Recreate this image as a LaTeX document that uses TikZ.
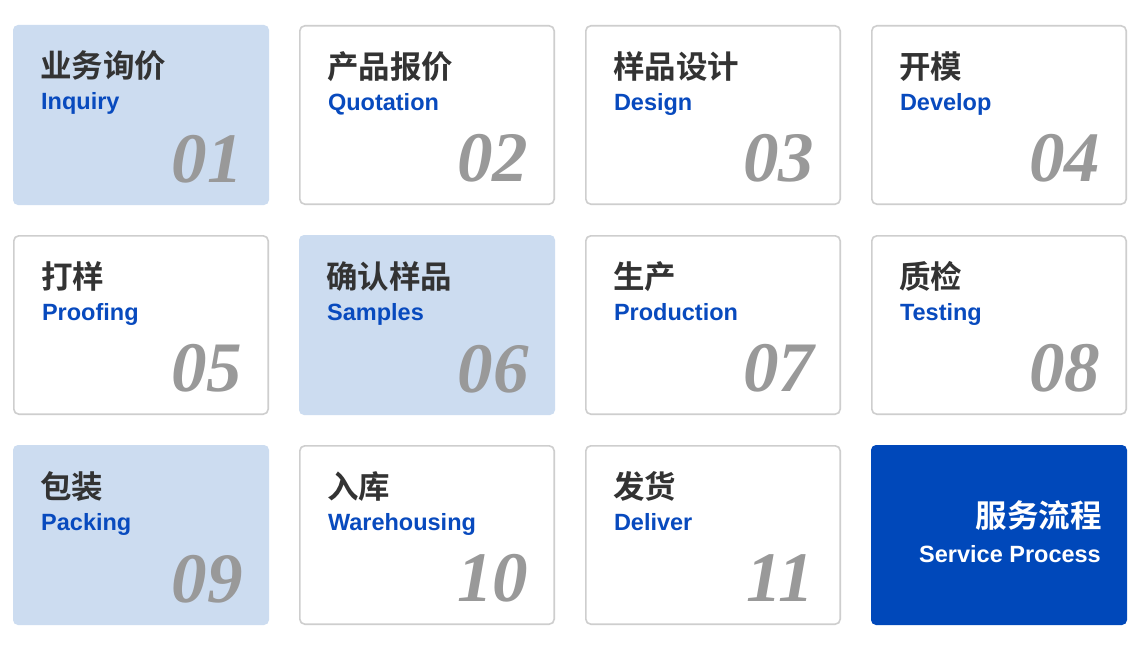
\documentclass[tikz,border=0pt]{standalone}
\usepackage{fontspec}
\setmainfont{Liberation Sans}
\newfontfamily\cjk{Noto Sans CJK SC}[BoldFont=* Bold]
\newfontfamily\numfont{Liberation Serif}
\definecolor{lightcard}{RGB}{204,220,240}
\definecolor{bluecard}{RGB}{0,72,186}
\definecolor{bluetext}{RGB}{8,74,190}
\definecolor{darktext}{RGB}{51,51,51}
\definecolor{numgray}{RGB}{153,153,153}
\definecolor{bordergray}{RGB}{206,206,206}
\tikzset{
  whitecard/.style={draw=bordergray, line width=1.6pt, fill=white, rounded corners=5pt,
    minimum width=254.4pt, minimum height=178.4pt, inner sep=0pt, outer sep=0pt},
  softcard/.style={fill=lightcard, rounded corners=5pt,
    minimum width=256pt, minimum height=180pt, inner sep=0pt, outer sep=0pt},
  darkcard/.style={fill=bluecard, rounded corners=5pt,
    minimum width=256pt, minimum height=180pt, inner sep=0pt, outer sep=0pt},
  zhtitle/.style={anchor=base west, inner sep=0pt, text=darktext,
    font=\cjk\bfseries\fontsize{31.5}{34}\selectfont},
  entitle/.style={anchor=base west, inner sep=0pt, text=bluetext,
    font=\bfseries\fontsize{23.5}{28}\selectfont},
  numlabel/.style={anchor=base east, inner sep=0pt, text=numgray,
    font=\numfont\bfseries\itshape\fontsize{71}{74}\selectfont},
}
\begin{document}
\begin{tikzpicture}[x=1pt,y=-1pt]
\useasboundingbox[fill=white] (0,0) rectangle (1140,650);
% cards
\node[softcard]  (c1)  at (141,115) {};
\node[whitecard] (c2)  at (427,115) {};
\node[whitecard] (c3)  at (713,115) {};
\node[whitecard] (c4)  at (999,115) {};
\node[whitecard] (c5)  at (141,325) {};
\node[softcard]  (c6)  at (427,325) {};
\node[whitecard] (c7)  at (713,325) {};
\node[whitecard] (c8)  at (999,325) {};
\node[softcard]  (c9)  at (141,535) {};
\node[whitecard] (c10) at (427,535) {};
\node[whitecard] (c11) at (713,535) {};
\node[darkcard]  (c12) at (999,535) {};
% texts
\foreach \n/\zh/\en/\num in {
  1/业务询价/Inquiry/01, 2/产品报价/Quotation/02, 3/样品设计/Design/03, 4/开模/Develop/04,
  5/打样/Proofing/05, 6/确认样品/Samples/06, 7/生产/Production/07, 8/质检/Testing/08,
  9/包装/Packing/09, 10/入库/Warehousing/10, 11/发货/Deliver/11}{
  \node[zhtitle] (z\n) at ([xshift=27pt,yshift=-53pt]c\n.north west) {\zh};
  \node[entitle] (e\n) at ([xshift=28pt,yshift=-85pt]c\n.north west) {\en};
  \node[numlabel] (n\n) at ([xshift=-26pt,yshift=23pt]c\n.south east) {\num};
}
\node[zhtitle, anchor=base east, text=white] (z12) at ([xshift=-25pt,yshift=-82pt]c12.north east) {服务流程};
\node[entitle, anchor=base east, text=white] (e12) at ([xshift=-26pt,yshift=-117pt]c12.north east) {Service Process};
\end{tikzpicture}
\end{document}
